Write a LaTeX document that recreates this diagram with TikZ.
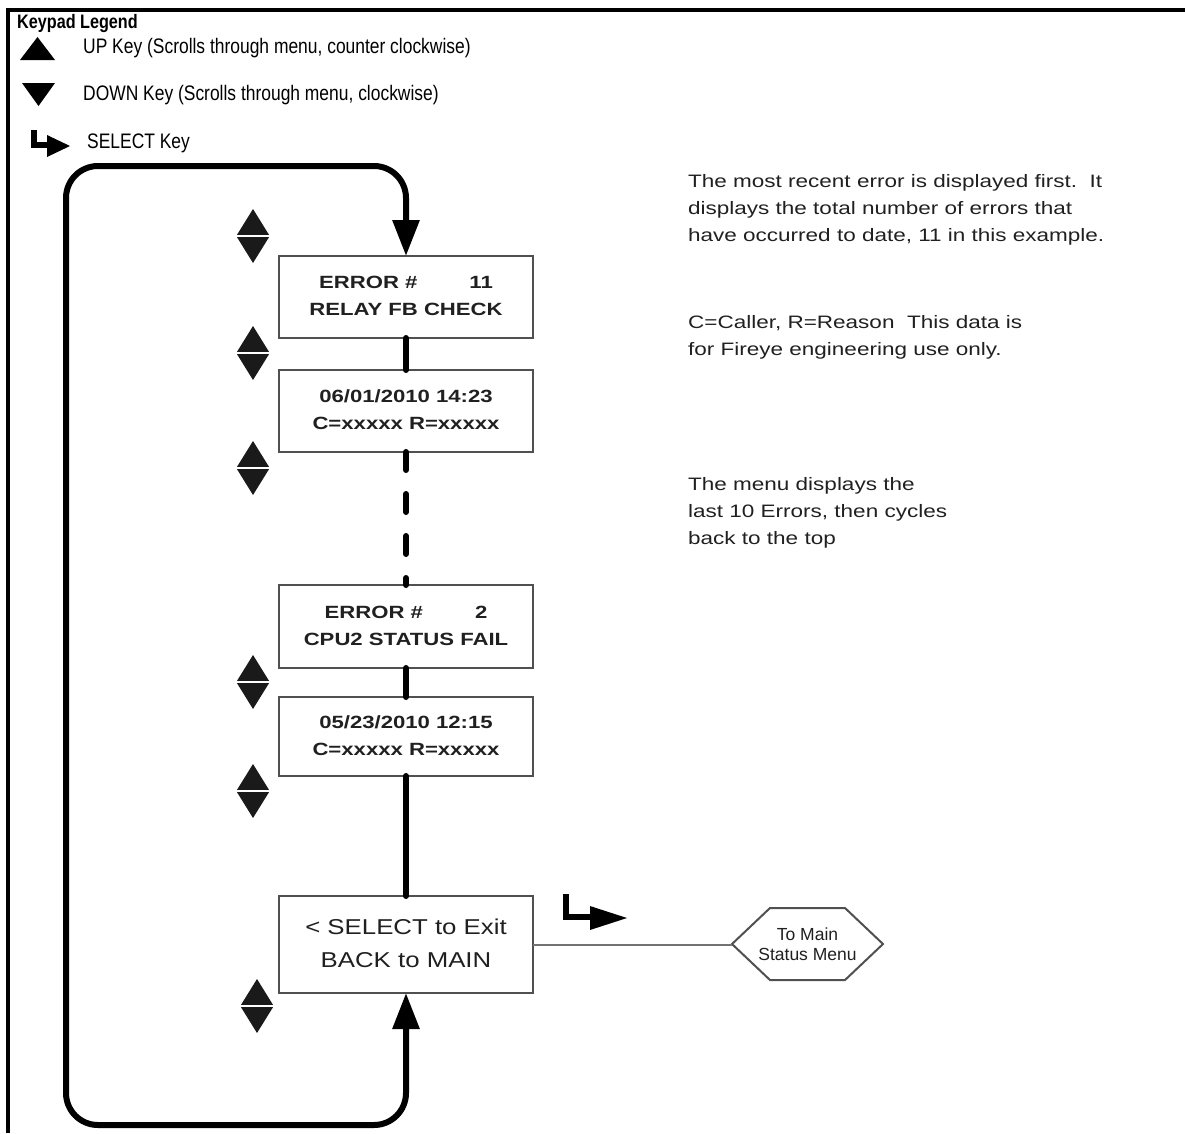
\documentclass[tikz,border=0pt]{standalone}
\usepackage{fontspec}
\setmainfont{Liberation Sans}
\newfontfamily\legfont[FakeStretch=0.83]{Liberation Sans}
\newfontfamily\widefont[FakeStretch=1.25]{Liberation Sans}
\newfontfamily\exitfont[FakeStretch=1.2]{Liberation Sans}
\usetikzlibrary{arrows.meta}
\definecolor{ink}{HTML}{1A1A1A}
\definecolor{boxline}{HTML}{505050}
\definecolor{txt}{HTML}{202020}
\tikzset{
  menubox/.style={draw=boxline, line width=2pt, minimum width=254pt, inner sep=0pt, outer sep=0pt, fill=white, text=txt, font=\widefont\bfseries\fontsize{17.7}{27}\selectfont},
  flow/.style={line width=6pt, draw=black, line cap=round},
  loopline/.style={line width=6pt, draw=black, rounded corners=32pt, -{Triangle[length=36pt,width=26pt]}},
  notetext/.style={anchor=base west, inner sep=0pt, text=txt, font=\widefont\fontsize{18}{27}\selectfont},
  legtext/.style={anchor=base west, inner sep=0pt, text=black, font=\legfont\fontsize{21}{25}\selectfont},
  updown/.pic={
    \fill[ink] (-16,-1.2) -- (0,-27) -- (16,-1.2) -- cycle;
    \fill[ink] (-16,1.2) -- (0,27) -- (16,1.2) -- cycle;
  },
}
\begin{document}
\begin{tikzpicture}[x=1pt,y=-1pt]
\useasboundingbox (0,0) rectangle (1185,1133);
% frame
\draw[line width=3.5pt] (8,1133) -- (8,10) -- (1185,10);
% legend
\node[legtext, font=\legfont\bfseries\fontsize{19.5}{22}\selectfont] (lgtitle) at (17,28) {Keypad Legend};
\fill (20,60) -- (37.5,37) -- (55,60) -- cycle;
\node[legtext] (lgup) at (83,53) {UP Key (Scrolls through menu, counter clockwise)};
\fill (22,83) -- (55,83) -- (38.5,106) -- cycle;
\node[legtext] (lgdown) at (83,100) {DOWN Key (Scrolls through menu, clockwise)};
\draw[line width=6pt] (33.5,130) -- (33.5,145) -- (49,145);
\fill (47,135) -- (70,146) -- (47,157) -- cycle;
\node[legtext] (lgsel) at (87,148) {SELECT Key};
% menu boxes
\node[menubox, minimum height=82pt] (b1) at (406,297) {\begin{tabular}{@{}c@{}}ERROR \#\hspace{52pt}11\\ RELAY FB CHECK\end{tabular}};
\node[menubox, minimum height=82pt] (b2) at (406,411) {\begin{tabular}{@{}c@{}}06/01/2010 14:23\\ C=xxxxx R=xxxxx\end{tabular}};
\node[menubox, minimum height=83pt] (b3) at (406,626.5) {\begin{tabular}{@{}c@{}}ERROR \#\hspace{52pt}2\\ CPU2 STATUS FAIL\end{tabular}};
\node[menubox, minimum height=79pt] (b4) at (406,736.5) {\begin{tabular}{@{}c@{}}05/23/2010 12:15\\ C=xxxxx R=xxxxx\end{tabular}};
\node[menubox, minimum height=97pt, font=\exitfont\fontsize{21.5}{33}\selectfont] (b5) at (406,944.5) {\begin{tabular}{@{}c@{}}< SELECT to Exit\\ BACK to MAIN\end{tabular}};
% connectors
\draw[flow] (b1.south) -- (b2.north);
\draw[flow, dash pattern=on 18pt off 24pt] (b2.south) -- (b3.north);
\draw[flow] (b3.south) -- (b4.north);
\draw[flow] (b4.south) -- (b5.north);
% loop
\coordinate (loopmid) at (66,640);
\coordinate (toprail) at (66,166);
\coordinate (botrail) at (66,1125);
\draw[loopline] (loopmid) -- (toprail) -| (b1.north);
\draw[loopline] (loopmid) -- (botrail) -| (b5.south);
% up/down keys
\pic at (253,236) {updown};
\pic at (253,353) {updown};
\pic at (253,468) {updown};
\pic at (253,682) {updown};
\pic at (253,791) {updown};
\pic at (257,1006) {updown};
% select arrow near exit box
\draw[line width=6pt] (566,894) -- (566,917) -- (593,917);
\fill (590,906) -- (627,918) -- (590,930) -- cycle;
% hexagon
\node[inner sep=0pt, text=txt, align=center, font=\fontsize{17.5}{20}\selectfont] (hex) at (807.5,944) {To Main\\Status Menu};
\draw[boxline, line width=2pt, line join=miter] (732,944) -- (770,908) -- (845,908) -- (883,944) -- (845,980) -- (770,980) -- cycle;
\coordinate (hexw) at (732,944.5);
\draw[boxline!80, line width=2pt] (b5.east) -- (hexw);
% notes
\node[notetext] (n1) at (688,187) {\begin{tabular}[t]{@{}l@{}}The most recent error is displayed first.\ \ It\\ displays the total number of errors that\\ have occurred to date, 11 in this example.\end{tabular}};
\node[notetext] (n2) at (688,328) {\begin{tabular}[t]{@{}l@{}}C=Caller, R=Reason\ \ This data is\\ for Fireye engineering use only.\end{tabular}};
\node[notetext] (n3) at (688,490) {\begin{tabular}[t]{@{}l@{}}The menu displays the\\ last 10 Errors, then cycles\\ back to the top\end{tabular}};
\end{tikzpicture}
\end{document}
